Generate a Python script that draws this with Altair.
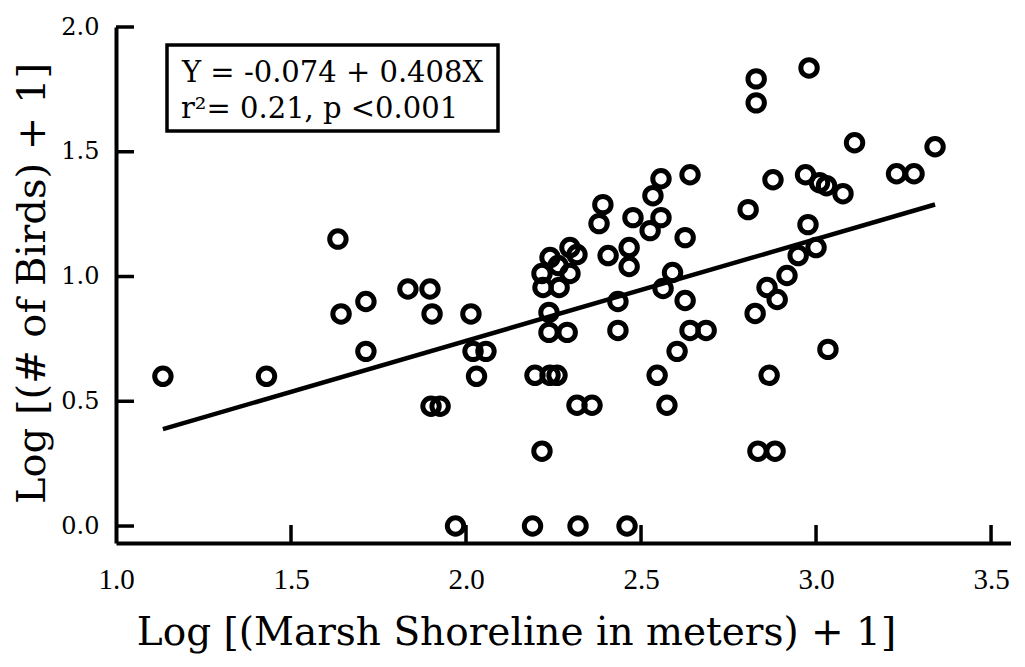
import altair as alt
import pandas as pd

# Log[(Marsh shoreline in meters)+1] and Log[(# of birds)+1]
shoreline = [
    1.134, 1.43, 1.634, 1.643, 1.714, 1.714, 1.834, 1.897, 1.903, 1.90,
    1.926, 1.97, 2.014, 2.02, 2.057, 2.03, 2.19, 2.32, 2.46, 2.297,
    2.317, 2.24, 2.217, 2.263, 2.297, 2.22, 2.266, 2.64, 2.557, 2.534,
    2.391, 2.38, 2.477, 2.557, 2.526, 2.626, 2.406, 2.466, 2.466, 2.59,
    2.237, 2.237, 2.289, 2.434, 2.434, 2.197, 2.24, 2.26, 2.563, 2.626,
    2.64, 2.686, 2.603, 2.546, 2.574, 2.317, 2.36, 2.217, 2.834, 2.883,
    2.829, 2.829, 2.98, 3.11, 3.34, 3.23, 3.28, 2.877, 2.97, 3.01,
    3.03, 3.077, 2.806, 2.977, 3.0, 2.949, 2.917, 2.86, 2.889, 2.826,
    3.034, 2.866,
]
birds = [
    0.60, 0.60, 1.15, 0.85, 0.90, 0.70, 0.95, 0.95, 0.85, 0.48,
    0.48, 0.0, 0.85, 0.70, 0.70, 0.60, 0.0, 0.0, 0.0, 1.116,
    1.088, 1.076, 1.012, 1.044, 1.012, 0.956, 0.956, 1.408, 1.392, 1.324,
    1.288, 1.212, 1.236, 1.236, 1.184, 1.156, 1.084, 1.116, 1.04, 1.016,
    0.856, 0.776, 0.776, 0.784, 0.90, 0.604, 0.604, 0.604, 0.952, 0.904,
    0.784, 0.784, 0.70, 0.604, 0.484, 0.484, 0.484, 0.30, 0.30, 0.30,
    1.792, 1.696, 1.836, 1.536, 1.52, 1.412, 1.412, 1.388, 1.408, 1.376,
    1.364, 1.332, 1.268, 1.208, 1.116, 1.084, 1.004, 0.956, 0.908, 0.852,
    0.708, 0.604,
]
x_label_values = [1.0, 1.5, 2.0, 2.5, 3.0, 3.5]
x_tick_values = [1.5, 2.0, 2.5, 3.0, 3.5]
y_tick_values = [0.0, 0.5, 1.0, 1.5, 2.0]
intercept = -0.074
slope = 0.408
eq_line1 = "Y = -0.074 + 0.408X"
eq_line2 = "r\u00b2= 0.21, p <0.001"
x_title = "Log [(Marsh Shoreline in meters) + 1]"
y_title = "Log [(# of Birds) + 1]"

W, H = 895, 516
xs = alt.Scale(domain=[1.0, 3.557], nice=False, zero=False)
ys = alt.Scale(domain=[-0.068, 2.0], nice=False, zero=False)

pts = pd.DataFrame({"x": shoreline, "y": birds})
xmin, xmax = min(shoreline), max(shoreline)
fit = pd.DataFrame({"x": [xmin, xmax],
                    "y": [intercept + slope * xmin, intercept + slope * xmax]})

x_axis = alt.Axis(
    values=x_label_values, format=".1f", title=x_title,
    labelFont="Liberation Serif", labelFontSize=29, labelColor="black",
    labelPadding=22, labelFlush=False, labelOverlap=False,
    ticks=False, tickSize=0, grid=False,
    domainColor="black", domainWidth=4,
    titleFont="DejaVu Serif", titleFontSize=39, titleFontWeight="normal",
    titleColor="black", titleX=400, titleY=101, titleAlign="center",
    titleBaseline="alphabetic",
)
y_axis = alt.Axis(
    values=y_tick_values, format=".1f", title=y_title,
    labelFont="DejaVu Serif", labelFontSize=24, labelColor="black",
    labelPadding=17, labelFlush=False, labelOverlap=False,
    ticks=False, tickSize=0, grid=False,
    domainColor="black", domainWidth=4,
    titleFont="DejaVu Serif", titleFontSize=40, titleFontWeight="normal",
    titleColor="black", titleX=-72, titleY=256, titleAngle=270,
    titleAlign="center", titleBaseline="alphabetic",
)

X = lambda: alt.X("x:Q", scale=xs, axis=x_axis)
Y = lambda: alt.Y("y:Q", scale=ys, axis=y_axis)

points = alt.Chart(pts).mark_point(
    shape="circle", filled=False, stroke="black", strokeWidth=5, size=270, opacity=1
).encode(x=X(), y=Y())

line = alt.Chart(fit).mark_line(color="black", strokeWidth=4.5).encode(x=X(), y=Y())

xticks = alt.Chart(pd.DataFrame({"x": x_tick_values})).mark_rule(
    color="black", strokeWidth=3.5
).encode(x=X(), y=alt.value(H - 18), y2=alt.value(H))

yticks = alt.Chart(pd.DataFrame({"y": y_tick_values})).mark_rule(
    color="black", strokeWidth=3.5
).encode(y=Y(), x=alt.value(0), x2=alt.value(18))

box = alt.Chart(pd.DataFrame({"a": [0]})).mark_rect(
    fill="white", stroke="black", strokeWidth=3.5
).encode(x=alt.value(51), x2=alt.value(382), y=alt.value(18), y2=alt.value(104))

text1 = alt.Chart(pd.DataFrame({"t": [eq_line1]})).mark_text(
    align="left", baseline="alphabetic", font="DejaVu Serif", fontSize=29, color="black"
).encode(x=alt.value(66), y=alt.value(55), text="t:N")

text2 = alt.Chart(pd.DataFrame({"t": [eq_line2]})).mark_text(
    align="left", baseline="alphabetic", font="DejaVu Serif", fontSize=29, color="black"
).encode(x=alt.value(65), y=alt.value(91), text="t:N")

chart = alt.layer(points, line, xticks, yticks, box, text1, text2).properties(
    width=W, height=H,
    autosize=alt.AutoSizeParams(type="none"),
    padding={"left": 108, "top": 19, "right": 0, "bottom": 114},
    background="white",
).configure_view(stroke=None)

chart.save("out.html", embed_options={"renderer": "svg", "actions": False})
